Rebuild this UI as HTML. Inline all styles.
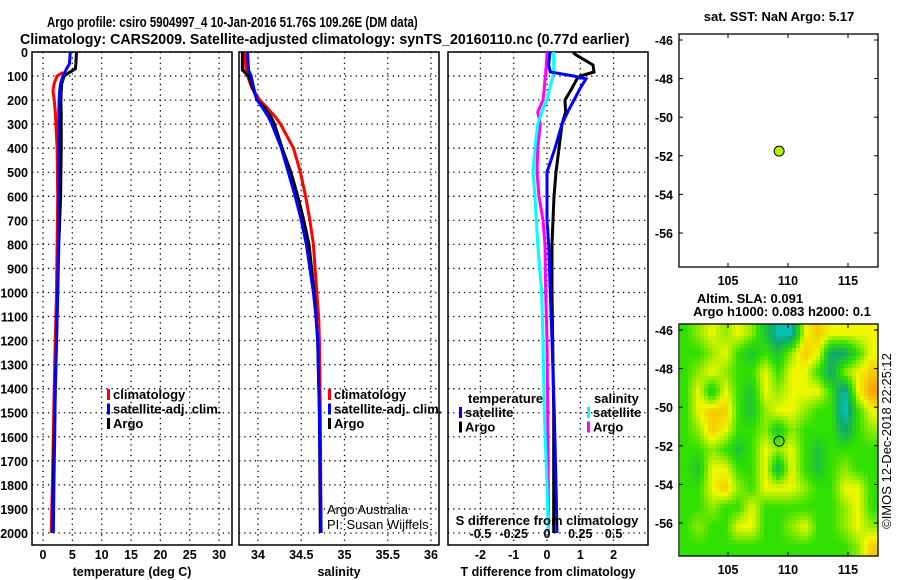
<!DOCTYPE html>
<html><head><meta charset="utf-8"><style>
body{margin:0;background:#fff}
svg{display:block;font-family:"Liberation Sans",sans-serif}
.t{font-weight:bold;font-size:13px}
.tt{font-weight:bold;font-size:15px}
.tk{font-weight:bold;font-size:12.5px}
.n{font-weight:normal;font-size:13px}
</style></head><body>
<svg id="s" width="900" height="580" viewBox="0 0 900 580">
<defs>
<clipPath id="mc"><rect x="680" y="324" width="198" height="232"/></clipPath>
</defs>
<text id="t1" x="0" y="0" class="tt">Argo profile: csiro 5904997_4 10-Jan-2016 51.76S 109.26E (DM data)</text>
<text id="t2" x="0" y="0" class="tt">Climatology: CARS2009. Satellite-adjusted climatology: synTS_20160110.nc (0.77d earlier)</text>
<g id="g"></g>
</svg>
<script>
// ---- data ----
const tDepth=[0,50,70,85,100,130,160,200,250,300,400,600,800,1000,1200,1400,1600,1800,2000];
const tClim=[null,null,null,3.4,2.4,1.9,1.7,1.9,2.1,2.2,2.4,2.5,2.4,2.3,2.1,1.9,1.75,1.6,1.4];
const tSat=[4.65,4.5,4.0,3.7,3.4,3.0,2.85,2.75,2.7,2.7,2.7,2.65,2.6,2.5,2.3,2.1,2.0,1.85,1.75];
const tArgo=[5.7,5.6,5.5,4.5,3.6,3.2,3.1,3.05,3.1,3.1,3.1,3.0,2.7,2.5,2.3,2.1,1.9,1.75,1.6];
const sDepth=[0,75,100,150,200,230,270,300,400,500,600,700,800,900,1000,1100,1200,1500,2000];
const sClim=[33.85,33.86,33.88,33.93,34.02,34.1,34.2,34.26,34.41,34.49,34.55,34.6,34.64,34.66,34.68,34.7,34.71,34.72,34.73];
const sSat=[33.88,33.89,33.92,33.95,33.99,34.05,34.12,34.16,34.27,34.35,34.43,34.5,34.56,34.6,34.64,34.67,34.69,34.71,34.73];
const sArgo=[33.82,33.82,33.89,33.94,33.99,34.07,34.15,34.19,34.28,34.38,34.46,34.53,34.59,34.62,34.65,34.67,34.69,34.71,34.72];
const dDepth=[0,10,54,83,100,112,150,200,250,300,400,500,600,700,800,1000,1200,1500,1800,2000];
const dTArgo=[0.78,0.85,1.38,1.41,1.0,0.9,0.75,0.54,0.56,0.45,0.36,0.27,0.21,0.18,0.15,0.15,0.17,0.2,0.2,0.2];
const dTSat=[0.09,0.08,0.05,0.1,0.8,1.17,1.0,0.81,0.62,0.45,0.24,0.0,0.0,0.0,0.05,0.1,0.15,0.22,0.27,0.3];
const dSSat=[0.05,0.05,0.05,0.05,0.045,0.04,0.02,0.0,-0.04,-0.07,-0.09,-0.105,-0.09,-0.08,-0.07,-0.04,-0.03,-0.02,0.0,0.01];
const dSArgo=[0.0,0.0,-0.005,-0.01,-0.01,-0.015,-0.02,-0.03,-0.07,-0.05,-0.07,-0.075,-0.06,-0.03,-0.015,-0.01,0.0,0.005,0.01,0.01];
const depthTicks=[0,100,200,300,400,500,600,700,800,900,1000,1100,1200,1300,1400,1500,1600,1700,1800,1900,2000];
const tTicks=[0,5,10,15,20,25,30];
const sTicks=[34,34.5,35,35.5,36];
const sTickLabels=["34","34.5","35","35.5","36"];
const dTTicks=[-2,-1,0,1,2];
const dSTicks=[-0.5,-0.25,0,0.25,0.5];
const dSTickLabels=["-0.5","-0.25","0","0.25","0.5"];
const latTicks=[-46,-48,-50,-52,-54,-56];
const lonTicks=[105,110,115];
const argoLon=109.26, argoLat=-51.76;
const slaGrid=[
[2,2.5,3,2.5,3,2.5,1.5,0.5,0.5,3,3.5,3,3,3,3],
[2,2,2.5,3,2,1.5,2,1.5,2.5,3.5,3,1,1,2,3],
[2,2.5,3,2.5,2,2,3,2,3,3,2,1,2.5,3,3.5],
[2,3,1.5,3,2,1.5,3,2.5,3,3,3,2,0.5,3,4],
[2,3,3.5,3.5,2,1.5,2.5,3,3,2.5,2,2,0.3,2,3],
[2,2.5,3.5,3,2,2,2.5,1.5,2.5,2,2,2,1,2,2.5],
[2,2,2.5,2,1.5,2,3,2.5,3,2,1.5,2,2,2,2],
[2,1.5,3,3,2,2,3,1.2,3,2,1.5,2,2.5,2,2],
[2,2,3,3.5,2.5,2,3,3,3,2.5,2,2,3,3,2],
[2,2,2.5,2,2,3,2,2,2,2,2,2,2.5,3,2],
[2,2.5,2,2,3,3,2,2,2.5,3,2,2,2.5,3,2.5],
[2,2,2,2,2,2,2,2,2,2,2,2,2,2.5,3.5]];

// titles: fit to measured widths
function fit(id,x,y,w){const e=document.getElementById(id);const L=e.getComputedTextLength();e.setAttribute('transform','translate('+x+','+y+') scale('+(w/L)+',1)');}
fit('t1',47,27,371);
fit('t2',20,44,610);

// ---- scales ----
const Y0=52,Y1=545;
const yD=d=>Y0+(d/2050)*(Y1-Y0);
const xT=v=>43+v*5.87;
const xS=v=>258+(v-34)*86.5;
const xDT=v=>547+v*33.3;
const xDS=v=>547+v*133.2;
const mxLon=v=>728+(v-105)*12;
const myLat1=v=>40+(-46-v)*19.3;
const myLat2=v=>330+(-46-v)*19.3;

const NS="http://www.w3.org/2000/svg";
const G=document.getElementById('g');
function mk(tag,at,par){const e=document.createElementNS(NS,tag);for(const k in at)e.setAttribute(k,at[k]);(par||G).appendChild(e);return e;}
function txt(x,y,s,cls,anchor,par){const e=mk('text',{x:x,y:y,'class':cls||'tk','text-anchor':anchor||'middle'},par);e.textContent=s;return e;}

function panel(name,x0,x1,xs,ticks,labels,title){
  const p=mk('g',{});
  
  
  depthTicks.forEach(d=>{const l=mk('line',{x1:x0,x2:x1,y1:yD(d),y2:yD(d),stroke:'#000','stroke-width':1.3,'stroke-dasharray':'1.3,4'},p);});
  ticks.forEach((v,i)=>{const x=xs(v);const l=mk('line',{x1:x,x2:x,y1:Y0,y2:Y1,stroke:'#000','stroke-width':1.3,'stroke-dasharray':'1.3,4'},p);
    if(labels){const t=txt(x,559,labels[i],'tk','middle',p);}});
  const r=mk('rect',{x:x0,y:Y0,width:x1-x0,height:Y1-Y0,fill:'none',stroke:'#000','stroke-width':1.5},p);
  
  if(title){const t=txt((x0+x1)/2,576,title,'tk','middle',p);}
  return p;
}
function line(par,depths,vals,xs,color,name){
  let d='';let started=false;
  depths.forEach((z,i)=>{if(vals[i]==null)return;const x=xs(vals[i]),y=yD(z);d+=(started?'L':'M')+x.toFixed(1)+','+y.toFixed(1);started=true;});
  const p=mk('path',{d:d,fill:'none',stroke:color,'stroke-width':3},par);
  
  
}
function legend(par,x,y,items){
  items.forEach((it,i)=>{const yy=y+i*14.5;
    const r=mk('rect',{x:x,y:yy-10,width:3,height:11,fill:it[1]},par);
    const t=txt(x+6,yy,it[0],'t','start',par);});
}

const p1=panel('temperature-panel',32,232,xT,tTicks,tTicks.map(String),'temperature (deg C)');
depthTicks.forEach(d=>{const t=txt(28,yD(d)+5,String(d),'tk','end',p1);});
line(p1,tDepth,tClim,xT,'#f00','temp-climatology-line');
line(p1,tDepth,tArgo,xT,'#000','temp-argo-line');
line(p1,tDepth,tSat,xT,'#00f','temp-satellite-line');
legend(p1,107,399,[['climatology','#f00'],['satellite-adj. clim.','#00f'],['Argo','#000']]);

const p2=panel('salinity-panel',239,439,xS,sTicks,sTickLabels,'salinity');
line(p2,sDepth,sClim,xS,'#f00','sal-climatology-line');
line(p2,sDepth,sArgo,xS,'#000','sal-argo-line');
line(p2,sDepth,sSat,xS,'#00f','sal-satellite-line');
legend(p2,328,399,[['climatology','#f00'],['satellite-adj. clim.','#00f'],['Argo','#000']]);
let c1=txt(327,514,'Argo Australia','n','start',p2);
let c2=txt(327,529,'PI: Susan Wijffels','n','start',p2);

const p3=panel('difference-panel',448,648,xDT,dTTicks,dTTicks.map(String),'T difference from climatology');
line(p3,dDepth,dSArgo,xDS,'#f0f','sal-argo-diff-line');
line(p3,dDepth,dSSat,xDS,'#0ff','sal-satellite-diff-line');
line(p3,dDepth,dTArgo,xDT,'#000','temp-argo-diff-line');
line(p3,dDepth,dTSat,xDT,'#00f','temp-satellite-diff-line');
dSTicks.forEach((v,i)=>{const t=txt(xDS(v),538,dSTickLabels[i],'tk','middle',p3);});
let st=txt(547,525,'S difference from climatology','t','middle',p3);
let lt=txt(468,403,'temperature','t','start',p3);
let ls=txt(594,403,'salinity','t','start',p3);
legend(p3,459,417,[['satellite','#00f'],['Argo','#000']]);
legend(p3,587,417,[['satellite','#0ff'],['Argo','#f0f']]);

function mapAxes(par,y0,y1,myLat){
  const r=mk('rect',{x:679,y:y0,width:199,height:y1-y0,fill:'none',stroke:'#000','stroke-width':1.3},par);
  
  latTicks.forEach(v=>{const y=myLat(v);mk('line',{x1:679,x2:683,y1:y,y2:y,stroke:'#000'},par);mk('line',{x1:874,x2:878,y1:y,y2:y,stroke:'#000'},par);
    const t=txt(673,y+5,String(v),'tk','end',par);});
  lonTicks.forEach(v=>{const x=mxLon(v);mk('line',{x1:x,x2:x,y1:y0,y2:y0+4,stroke:'#000'},par);mk('line',{x1:x,x2:x,y1:y1-4,y2:y1,stroke:'#000'},par);
    const t=txt(x,y1+18,String(v),'tk','middle',par);});
}
const m1=mk('g',{});
let mt=txt(779,21,'sat. SST: NaN Argo: 5.17','t','middle',m1);
mapAxes(m1,34,267,myLat1);
let dot=mk('circle',{cx:mxLon(argoLon),cy:myLat1(argoLat),r:5,fill:'#b8f000',stroke:'#000','stroke-width':1},m1);


const m2=mk('g',{});
let a1=txt(750,303,'Altim. SLA: 0.091','t','middle',m2);
let a2=txt(782,316,'Argo h1000: 0.083 h2000: 0.1','t','middle',m2);
const cols=['#00d8f0','#10a870','#30e000','#f0f800','#f8a000'];
function col(v){const i=Math.max(0,Math.min(3,Math.floor(v)));const f=Math.min(1,v-i);
  const a=cols[i],b=cols[i+1];const h=s=>[1,3,5].map(k=>parseInt(s.substr(k,2),16));
  const A=h(a),B=h(b);return 'rgb('+A.map((x,j)=>Math.round(x+(B[j]-x)*f)).join(',')+')';}
const hg=mk('g',{'clip-path':'url(#mc)'},m2);
const nr=slaGrid.length,nc=slaGrid[0].length,cw=199/nc,rh=232/nr;
function sample(px,py){ // bilinear on cell centres
  let gx=(px-679)/cw-0.5, gy=(py-324)/rh-0.5;
  gx=Math.max(0,Math.min(nc-1,gx)); gy=Math.max(0,Math.min(nr-1,gy));
  const i0=Math.floor(gy),j0=Math.floor(gx),i1=Math.min(nr-1,i0+1),j1=Math.min(nc-1,j0+1),fy=gy-i0,fx=gx-j0;
  return slaGrid[i0][j0]*(1-fx)*(1-fy)+slaGrid[i0][j1]*fx*(1-fy)+slaGrid[i1][j0]*(1-fx)*fy+slaGrid[i1][j1]*fx*fy;
}
const PX=4;
for(let y=324;y<556;y+=PX){for(let x=680;x<878;x+=PX){
  const c=mk('rect',{x:x,y:y,width:PX+0.5,height:PX+0.5,fill:col(sample(x+PX/2,y+PX/2))},hg);
  
  
}}
mapAxes(m2,324,556,myLat2);
let d2=mk('circle',{cx:mxLon(argoLon),cy:myLat2(argoLat),r:5,fill:'none',stroke:'#000','stroke-width':1},m2);

let cr=txt(0,0,'©IMOS 12-Dec-2018 22:25:12','n','middle',m2);
cr.setAttribute('transform','translate(891,441) rotate(-90)');

</script>
</body></html>
